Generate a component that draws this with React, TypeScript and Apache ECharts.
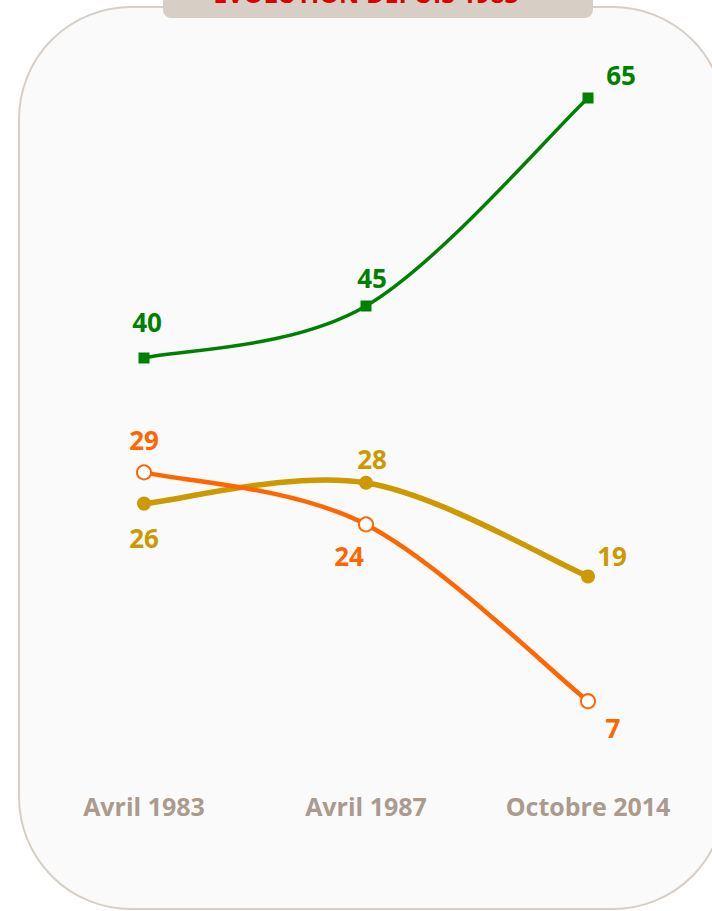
import React, { useEffect, useRef } from "react";
import * as echarts from "echarts";

const categories = ["Avril 1983", "Avril 1987", "Octobre 2014"];
const greenValues = [40, 45, 65];
const orangeValues = [29, 24, 7];
const goldValues = [26, 28, 19];
const titleText = "ÉVOLUTION DEPUIS 1983";

const greenOffsets = [[3, -36], [6, -28], [33, -23]];
const orangeOffsets = [[0, -32], [-17, 32], [25, 27]];
const goldOffsets = [[0, 34], [6, -24], [24, -20]];

const FONT = "'Open Sans', 'DejaVu Sans', sans-serif";

function mkData(values: number[], offsets: number[][], color: string) {
  return values.map((v, i) => ({
    value: v,
    label: {
      show: true,
      position: "inside",
      offset: offsets[i],
      color,
      fontSize: 26,
      fontWeight: "bold",
      fontFamily: FONT,
      align: "center",
      verticalAlign: "middle",
    },
  }));
}

// Cardinal (Catmull-Rom-like) curve through the points, built from axis coords.
function curveSeries(values: number[], color: string, width: number, z: number) {
  return {
    type: "custom",
    coordinateSystem: "cartesian2d",
    silent: true,
    z,
    data: [[0, values[0]]],
    encode: { x: 0, y: 1 },
    renderItem: (_params: any, api: any) => {
      const p = values.map((v, i) => api.coord([i, v]));
      const n = p.length;
      const children: any[] = [];
      for (let i = 0; i < n - 1; i++) {
        const p0 = p[i];
        const p1 = p[i + 1];
        const prev = i > 0 ? p[i - 1] : p0;
        const next = i + 2 < n ? p[i + 2] : p1;
        const k = 1 / 6;
        children.push({
          type: "bezierCurve",
          shape: {
            x1: p0[0],
            y1: p0[1],
            cpx1: p0[0] + (p1[0] - prev[0]) * k,
            cpy1: p0[1] + (p1[1] - prev[1]) * k,
            cpx2: p1[0] - (next[0] - p0[0]) * k,
            cpy2: p1[1] - (next[1] - p0[1]) * k,
            x2: p1[0],
            y2: p1[1],
          },
          style: { stroke: color, lineWidth: width, fill: null, lineCap: "round" },
        });
      }
      return { type: "group", children };
    },
  };
}

export default function App() {
  const ref = useRef<HTMLDivElement>(null);
  useEffect(() => {
    if (!ref.current) return;
    const chart = echarts.init(ref.current, undefined, { renderer: "svg" });
    chart.setOption({
      animation: false,
      backgroundColor: "#ffffff",
      graphic: [
        {
          type: "rect",
          z: -10,
          shape: { x: 19, y: 7, width: 706, height: 902, r: 112 },
          style: { fill: "#fafafa", stroke: "#d7cfc6", lineWidth: 2 },
        },
        {
          type: "rect",
          z: -9,
          shape: { x: 163, y: -12, width: 430, height: 30, r: 8 },
          style: { fill: "#d7cfc6" },
        },
        {
          type: "text",
          z: -8,
          x: 366,
          y: -7,
          style: {
            text: titleText,
            fill: "#dd0000",
            font: `bold 25px ${FONT}`,
            textAlign: "center",
            textVerticalAlign: "middle",
          },
        },
      ],
      grid: { left: 33, right: 13, top: 46, bottom: 137, containLabel: false, outerBoundsMode: "none" },
      xAxis: {
        type: "category",
        data: categories,
        boundaryGap: true,
        axisLine: { show: false },
        axisTick: { show: false },
        splitLine: { show: false },
        axisLabel: {
          color: "#ab9b8e",
          fontSize: 25,
          fontWeight: "bold",
          fontFamily: FONT,
          margin: 19,
        },
      },
      yAxis: { type: "value", min: 0, max: 70, show: false, splitLine: { show: false } },
      series: [
        curveSeries(goldValues, "#cc9900", 5.5, 2),
        curveSeries(orangeValues, "#ff6600", 4.5, 3),
        curveSeries(greenValues, "#008000", 3.5, 4),
        {
          type: "line",
          data: mkData(goldValues, goldOffsets, "#cc9900"),
          lineStyle: { opacity: 0 },
          itemStyle: { color: "#cc9900" },
          symbol: "circle",
          symbolSize: 14,
          z: 6,
        },
        {
          type: "line",
          data: mkData(orangeValues, orangeOffsets, "#ff6600"),
          lineStyle: { opacity: 0 },
          itemStyle: { color: "#ffffff", borderColor: "#ff6600", borderWidth: 2 },
          symbol: "circle",
          symbolSize: 14,
          z: 7,
        },
        {
          type: "line",
          data: mkData(greenValues, greenOffsets, "#008000"),
          lineStyle: { opacity: 0 },
          itemStyle: { color: "#008000" },
          symbol: "rect",
          symbolSize: 11,
          z: 8,
        },
      ],
    });
    return () => chart.dispose();
  }, []);
  return (
    <div
      ref={ref}
      style={{ position: "fixed", left: 0, top: 0, width: 712, height: 911 }}
    />
  );
}
